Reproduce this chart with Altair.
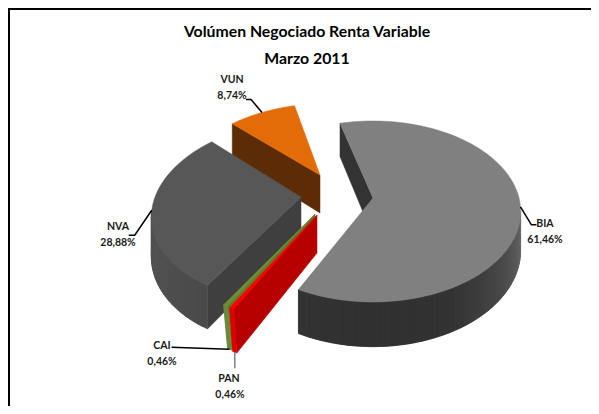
import math
import altair as alt

# ---- chart values ----
names = ["BIA", "PAN", "CAI", "NVA", "VUN"]
shares = [61.46, 0.46, 0.46, 28.88, 8.74]
title_lines = ["Volúmen Negociado Renta Variable", "Marzo 2011"]

top_colors = ["#808080", "#ff0000", "#6f8f33", "#575757", "#e36c09"]
wall_colors = ["#333333", "#b70000", "#5f7a30", "#3f3f3f", "#5c2c04"]
rim_ramps = [["#6c6c6c", "#4a4a4a", "#333333", "#303030", "#333333"],
             ["#e00000", "#e00000"],
             ["#6a8a3a", "#6a8a3a"],
             ["#4a4a4a", "#505050", "#525252"],
             ["#5c2c04", "#5c2c04"]]

# ---- layout of the perspective pie ----
START = -15.0
OFF = 8
A, B, K, DEPTH = 146.0, 88.5, 0.149, 38.0
VX, VY = 373.0, 198.0
apex = {"BIA": (373, 198), "PAN": (317, 215), "CAI": (315, 214),
        "NVA": (301, 197), "VUN": (320, 175)}
radius = {"BIA": 1.0, "PAN": 1.0, "CAI": 1.0, "NVA": 1.0, "VUN": 0.96}
lean = {"BIA": 0.0, "PAN": 3.0, "CAI": 4.0, "NVA": 0.0, "VUN": 0.0}
paint_order = ["VUN", "NVA", "CAI", "PAN", "BIA"]
label_pos = {"VUN": (232, 80), "NVA": (118, 227), "BIA": (545, 224),
             "CAI": (162, 346), "PAN": (229, 379)}
# leader: elbow offsets from the slice anchor, and whether it starts at the wall foot
leader = {"VUN": ([(-11, -13), (-16, -13)], False, "#000000"),
          "NVA": ([(-17, 25), (-23, 25)], False, "#000000"),
          "BIA": ([(11, 18), (16, 18)], False, "#000000"),
          "CAI": ([(-58, -2)], True, "#000000"),
          "PAN": ([(0, 16)], True, "#808080")}
frame_pts = [[[599, 9], [9, 9], [9, 414]]]


def project(name, theta, depth=0.0, r=None):
    r = radius[name] if r is None else r
    t = math.radians(theta)
    X, Y = r * math.sin(t), -r * math.cos(t)
    f = 1.0 / (1.0 - K * Y)
    px, py = apex[name]
    x = px + A * X * f + (px - VX) * (f - 1) + depth * lean[name] * r
    y = py + B * Y * f + (py - VY) * (f - 1) + depth * DEPTH * f
    return [round(x - OFF, 2), round(y - OFF, 2)]


def poly(points, color, stroke=None):
    ring = points + [points[0]]
    return {"type": "Feature",
            "properties": {"fill": color, "stroke": stroke or color},
            "geometry": {"type": "Polygon", "coordinates": [ring]}}


def line(points, color, width):
    return {"type": "Feature",
            "properties": {"stroke": color, "w": width},
            "geometry": {"type": "LineString", "coordinates": points}}


def ramp(colors, frac):
    pos = frac * (len(colors) - 1)
    i = min(int(pos), len(colors) - 2)
    u = pos - i
    a = [int(colors[i][j:j + 2], 16) for j in (1, 3, 5)]
    b = [int(colors[i + 1][j:j + 2], 16) for j in (1, 3, 5)]
    return "#%02x%02x%02x" % tuple(round(a[k] + (b[k] - a[k]) * u) for k in range(3))


# angular span of each slice, clockwise from north
spans = {}
cur = START
total = sum(shares)
for n, s in zip(names, shares):
    spans[n] = (cur, cur + 360 * s / total)
    cur += 360 * s / total

vis_lo = math.degrees(math.acos(-K))
vis_hi = 360 - vis_lo

features = []
for n in paint_order:
    i = names.index(n)
    a0, a1 = spans[n]
    px, py = apex[n]
    ap_top = [px - OFF, py - OFF]
    ap_bot = project(n, 0, 1.0, 0.0)
    # radial wall on the starting edge
    features.append(poly([ap_top, project(n, a0), project(n, a0, 1.0), ap_bot], wall_colors[i]))
    # outer wall, as overlapping shaded strips where it faces the viewer
    lo, hi = max(a0, vis_lo), min(a1, vis_hi)
    if hi > lo:
        steps = max(2, int((hi - lo) / 2))
        step = (hi - lo) / steps
        for k in range(steps):
            t0 = lo + step * k
            t1 = min(hi, t0 + 2 * step)
            tm = (t0 + t1) / 2
            features.append(poly([project(n, t0), project(n, tm), project(n, t1),
                                  project(n, t1, 1.0), project(n, tm, 1.0), project(n, t0, 1.0)],
                                 ramp(rim_ramps[i], (k + 0.5) / steps)))
    # top face
    steps = max(2, int((a1 - a0) / 2))
    ring = [ap_top] + [project(n, a0 + (a1 - a0) * k / steps) for k in range(steps + 1)]
    features.append(poly(ring, top_colors[i]))

line_features = [line([[x - OFF, y - OFF] for x, y in pts], "#000000", 2) for pts in frame_pts]
for n, (elbows, foot, col) in leader.items():
    a0, a1 = spans[n]
    start = project(n, (a0 + a1) / 2, 1.0 if foot else 0.0)
    line_features.append(line([start] + [[start[0] + dx, start[1] + dy] for dx, dy in elbows], col, 1.5))

label_rows = []
for n, s in zip(names, shares):
    x, y = label_pos[n]
    label_rows.append({"t": n, "x": x - OFF, "y": y - OFF})
    label_rows.append({"t": f"{s:.2f}%".replace(".", ","), "x": x - OFF + (1 if n == "PAN" else 0), "y": y - OFF + 16})

title_rows = [{"t": title_lines[0], "x": 307 - OFF, "y": 32 - OFF},
              {"t": title_lines[1], "x": 307 - OFF, "y": 59 - OFF}]

proj = dict(type="identity", scale=1, translate=[0, 0])

shapes = alt.Chart(alt.Data(values=features)).mark_geoshape(strokeWidth=0.5).encode(
    fill=alt.Fill("properties.fill:N", scale=None),
    stroke=alt.Stroke("properties.stroke:N", scale=None),
).project(**proj)

lines = alt.Chart(alt.Data(values=line_features)).mark_geoshape(filled=False).encode(
    stroke=alt.Stroke("properties.stroke:N", scale=None),
    strokeWidth=alt.StrokeWidth("properties.w:Q", scale=None),
).project(**proj)

FONT = "Lato"
labels = alt.Chart(alt.Data(values=label_rows)).mark_text(
    font=FONT, fontSize=10.5, fontWeight="bold", color="#1a1a1a", align="center", baseline="middle"
).encode(x=alt.X("x:Q", scale=None, axis=None), y=alt.Y("y:Q", scale=None, axis=None), text="t:N")

titles = alt.Chart(alt.Data(values=title_rows)).mark_text(
    font=FONT, fontSize=15.8, fontWeight="bold", color="#000000", align="center", baseline="middle"
).encode(x=alt.X("x:Q", scale=None, axis=None), y=alt.Y("y:Q", scale=None, axis=None), text="t:N")

chart = alt.layer(shapes, lines, labels, titles).properties(
    width=583, height=398, padding=0, autosize=alt.AutoSizeParams(type="none"), background="white"
).configure_view(stroke=None)

chart.save("out.html", embed_options={"renderer": "svg", "actions": False})
